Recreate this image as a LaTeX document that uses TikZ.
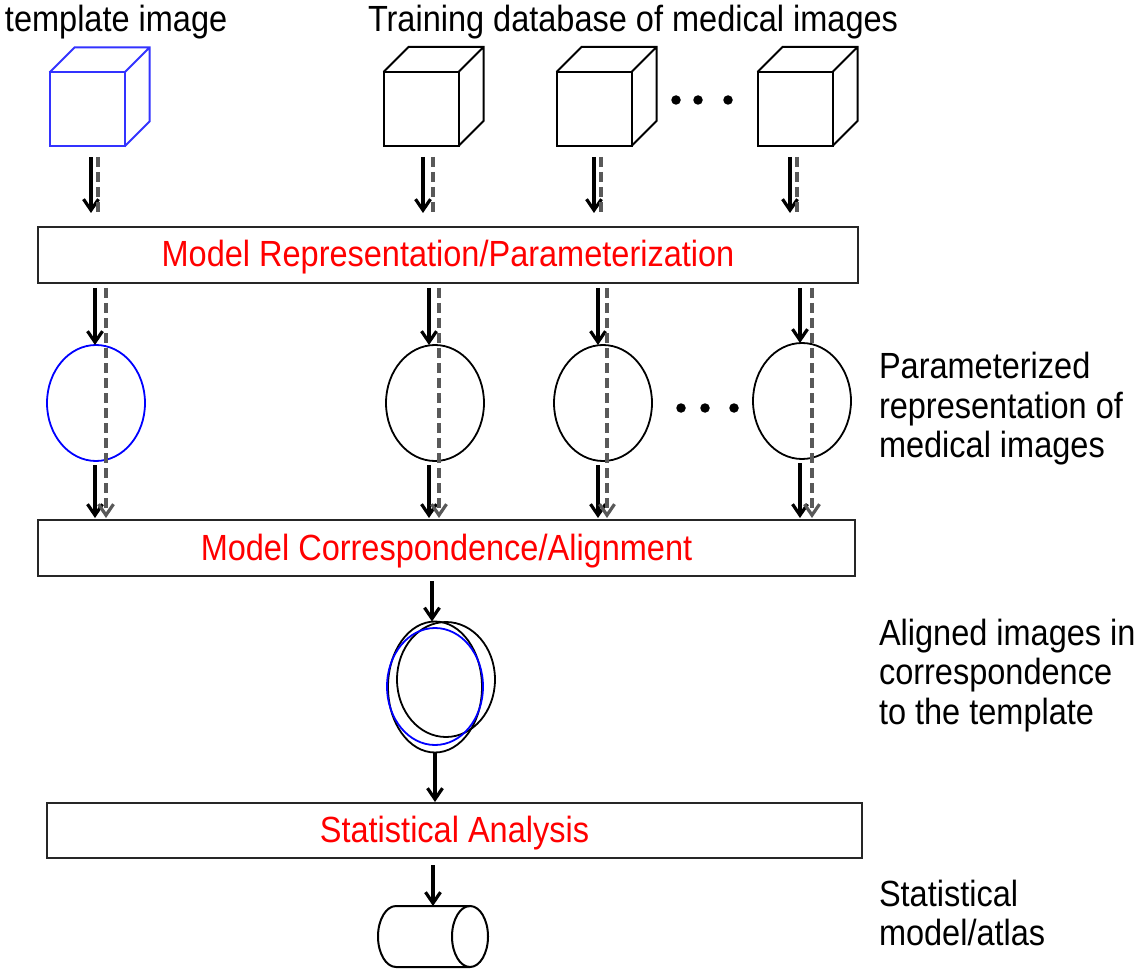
\documentclass[tikz,border=0pt]{standalone}
\usepackage{fontspec}
\setmainfont{Liberation Sans}[FakeStretch=0.893]
\usetikzlibrary{arrows.meta,shapes.geometric,calc}

% back edges of a cube drawn behind its front face node
\newcommand{\cubeback}[2]{%
  \draw[line width=2pt,#2] (#1.north west) -- ++(25,-25)
    -- ($(#1.north east)+(25,-25)$) -- ($(#1.south east)+(25,-25)$) -- (#1.south east)
    (#1.north east) -- ++(25,-25);}

\begin{document}
\begin{tikzpicture}[x=1pt,y=-1pt,
  every node/.style={inner sep=0pt,outer sep=0pt},
  txt/.style={font=\fontsize{36.4}{39.5}\selectfont},
  lbl/.style={txt,align=left,anchor=north west},
  stage/.style={txt,draw=black!85,line width=2.4pt,rectangle,text=red,text height=26pt,text depth=2pt},
  cubeface/.style={draw,line width=2pt,minimum width=75pt,minimum height=74pt},
  img/.style={draw,ellipse,line width=1.8pt,minimum width=98pt,minimum height=116pt},
  tip/.style={-{Straight Barb[length=11pt,width=15pt]}},
  arr/.style={tip,line width=3.2pt},
  darr/.style={line width=3.2pt,black!65,dash pattern=on 10pt off 5pt},
  dot/.style={circle,fill,minimum size=9.5pt},
  tmpl/.style={draw=blue!80}]

\useasboundingbox (0,0) rectangle (1134,973);

% headings
\node[txt,anchor=base west] (hTemplate) at (5,32) {template image};
\node[txt,anchor=base west] (hTraining) at (368,32) {Training database of medical images};

% template volume and training volumes
\node[cubeface,tmpl] (c0) at (87,109.5) {};
\node[cubeface] (c1) at (421,109) {};
\node[cubeface] (c2) at (594,109) {};
\node[cubeface] (c3) at (795,109) {};
\cubeback{c0}{blue!80}
\cubeback{c1}{black}
\cubeback{c2}{black}
\cubeback{c3}{black}
\node[dot] (d1) at (676,100) {};
\node[dot] (d2) at (698,100) {};
\node[dot] (d3) at (728,100) {};

% processing stages
\node[stage,minimum width=820pt,minimum height=56pt] (b1) at (448,255) {Model Representation/Parameterization};
\node[stage,minimum width=817pt,minimum height=56pt] (b2) at (446.5,548) {Model Correspondence/Alignment};
\node[stage,minimum width=815pt,minimum height=55pt] (b3) at (454.5,830.5) {Statistical Analysis};

% parameterized representations
\node[img,draw=blue] (e0) at (96,403) {};
\node[img] (e1) at (435,403) {};
\node[img] (e2) at (603,403) {};
\node[img] (e3) at (802,401) {};
\node[dot] (m1) at (681,408) {};
\node[dot] (m2) at (705,408) {};
\node[dot] (m3) at (734,408) {};

% column connectors: solid and dashed flows
\foreach \i/\ts/\td/\ms/\md in {0/91/98/95/106, 1/423/433/429/439, 2/594/601/598/607, 3/790/797/800/812} {
  \coordinate (ts\i) at (\ts,0);
  \coordinate (td\i) at (\td,0);
  \coordinate (ms\i) at (\ms,0);
  \coordinate (md\i) at (\md,0);
  \draw[arr] ([yshift=-11pt]c\i.south -| ts\i) -- ([yshift=14pt]b1.north -| ts\i);
  \draw[darr] ([yshift=-11pt]c\i.south -| td\i) -- ([yshift=14pt]b1.north -| td\i);
  \draw[arr] ([yshift=-5pt]b1.south -| ms\i) -- (e\i.north -| ms\i);
  \draw[arr] ([yshift=-4pt]e\i.south -| ms\i) -- ([yshift=2pt]b2.north -| ms\i);
  \draw[darr,tip] ([yshift=-5pt]b1.south -| md\i) -- ([yshift=2pt]b2.north -| md\i);
}

% aligned representations
\node[draw,ellipse,line width=1.8pt,minimum width=94pt,minimum height=131pt] (a1) at (435,687) {};
\node[draw,ellipse,line width=1.8pt,minimum width=98pt,minimum height=115pt] (a2) at (446,679.5) {};
\node[draw=blue,ellipse,line width=1.8pt,minimum width=96pt,minimum height=117pt] (a3) at (435,686.5) {};
\coordinate (k1) at (432,0);
\coordinate (k2) at (435,0);
\draw[arr] ([yshift=-5pt]b2.south -| k1) -- (a1.north -| k1);
\draw[arr] (a1.south -| k2) -- ([yshift=1pt]b3.north -| k2);

% statistical model / atlas
\coordinate (cylTop) at (433,906);
\draw[line width=2pt] (470,906) -- (396,906) arc[start angle=270,end angle=90,x radius=18,y radius=30.5] -- (470,967);
\draw[line width=2pt] (470,936.5) ellipse[x radius=18,y radius=30.5];
\draw[arr] ([yshift=-7pt]b3.south -| cylTop) -- (cylTop);

% side labels
\node[lbl] (lParam) at (879,352.5) {Parameterized\\representation of\\medical images};
\node[lbl] (lAlign) at (879,619) {Aligned images in\\correspondence\\to the template};
\node[lbl] (lAtlas) at (879,880) {Statistical\\model/atlas};
\end{tikzpicture}
\end{document}
